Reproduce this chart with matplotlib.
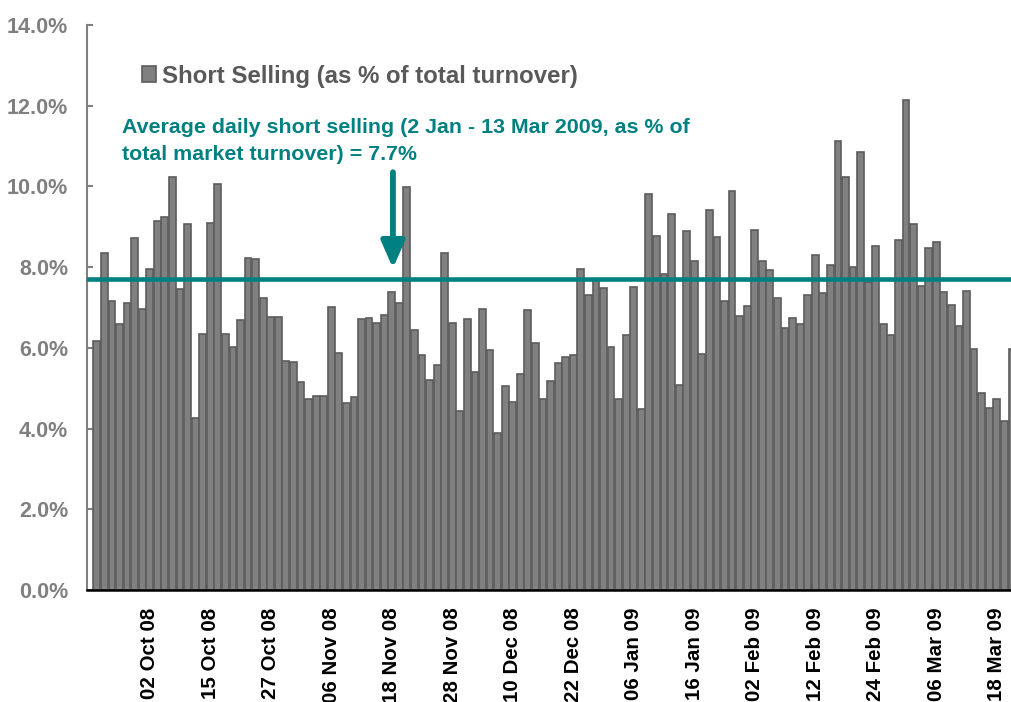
import matplotlib
matplotlib.use('Agg')
import matplotlib.pyplot as plt
import pandas as pd

plt.rcParams['font.family'] = ['Liberation Sans', 'DejaVu Sans']
plt.rcParams['font.weight'] = 'bold'

# HK trading days, 22 Sep 2008 - 20 Mar 2009
holidays = ['2008-10-01', '2008-10-07', '2008-12-25', '2008-12-26',
            '2009-01-01', '2009-01-26', '2009-01-27', '2009-01-28']
days = pd.bdate_range('2008-09-22', '2009-03-20')
days = days[~days.isin(pd.to_datetime(holidays))]

# short selling as % of total turnover
short_pct = [6.16, 8.35, 7.16, 6.58, 7.10, 8.73, 6.97, 7.96, 9.15, 9.24,
             10.23, 7.47, 9.08, 4.27, 6.35, 9.09, 10.07, 6.35, 6.02, 6.68,
             8.23, 8.20, 7.23, 6.77, 6.77, 5.67, 5.66, 5.16, 4.74, 4.80,
             4.80, 7.01, 5.86, 4.64, 4.79, 6.72, 6.73, 6.62, 6.82, 7.39,
             7.11, 9.98, 6.44, 5.82, 5.21, 5.57, 8.35, 6.62, 4.44, 6.72,
             5.40, 6.95, 5.94, 3.88, 5.05, 4.66, 5.36, 6.93, 6.12, 4.73,
             5.18, 5.63, 5.78, 5.82, 7.95, 7.32, 7.67, 7.49, 6.01, 4.74,
             6.32, 7.51, 4.48, 9.80, 8.77, 7.84, 9.31, 5.09, 8.89, 8.16,
             5.85, 9.42, 8.75, 7.16, 9.88, 6.80, 7.03, 8.93, 8.16, 7.92,
             7.24, 6.48, 6.74, 6.58, 7.32, 8.31, 7.37, 8.04, 11.12, 10.23,
             8.00, 10.85, 7.62, 8.52, 6.60, 6.31, 8.67, 12.15, 9.06, 7.53,
             8.48, 8.61, 7.39, 7.05, 6.54, 7.40, 5.96, 4.87, 4.50, 4.74,
             4.18, 5.98]
avg_pct = 7.7

teal = '#008080'

fig = plt.figure(figsize=(10.11, 7.02), dpi=100)
ax = fig.add_axes([0.086, 0.1595, 0.914, 0.805])

xs = list(range(len(short_pct)))
ax.bar(xs, short_pct, width=0.9, color='#808080', edgecolor='#5c5c5c',
       linewidth=1.2, label='Short Selling (as % of total turnover)', zorder=2)
ax.axhline(avg_pct, color=teal, lw=3.3, zorder=3)

ax.set_xlim(-1.3, 120.88)
ax.set_ylim(0, 14)

# labels every 8 trading days on the category, tick marks between categories
lab_idx = list(range(7, len(days), 8))
ax.set_xticks(lab_idx)
ax.set_xticklabels([days[i].strftime('%d %b %y') for i in lab_idx], rotation=90)
ax.set_xticks([i - 0.5 for i in lab_idx], minor=True)
ax.set_yticks(range(0, 15, 2))
ax.set_yticklabels(['%.1f%%' % v for v in range(0, 15, 2)])

ax.tick_params(axis='x', which='major', length=0, labelsize=14.8, pad=12.5,
               labelcolor='black')
ax.tick_params(axis='x', which='minor', direction='in', length=4.5, width=1.5,
               color='black')
ax.tick_params(axis='y', direction='in', length=4.5, width=1.5, color='#808080',
               labelsize=15.5, pad=13.5, labelcolor='#808080')

for s in ['top', 'right']:
    ax.spines[s].set_visible(False)
ax.spines['left'].set_color('#808080')
ax.spines['left'].set_linewidth(1.5)
ax.spines['bottom'].set_color('black')
ax.spines['bottom'].set_linewidth(1.8)
ax.spines['bottom'].set_zorder(4)

leg = ax.legend(loc='upper left', bbox_to_anchor=(0.140, 0.908),
                bbox_transform=fig.transFigure, frameon=False,
                handlelength=0.62, handleheight=0.62, handletextpad=0.25,
                borderpad=0, borderaxespad=0, fontsize=17.3, labelcolor='#595959')

fig.text(0.1207, 0.832,
         'Average daily short selling (2 Jan - 13 Mar 2009, as % of\n'
         'total market turnover) = 7.7%',
         color=teal, fontsize=15.4, va='top', ha='left', linespacing=1.53)

ax.annotate('', xy=(39.16, 7.97), xytext=(39.16, 10.35),
            arrowprops=dict(arrowstyle='-|>,head_width=0.35,head_length=0.8',
                            color=teal, lw=4.2, mutation_scale=20,
                            shrinkA=0, shrinkB=0))

fig.savefig('out.png', dpi=100)
